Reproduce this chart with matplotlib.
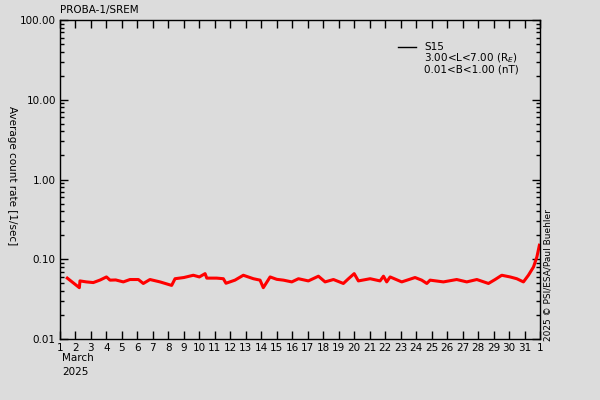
import matplotlib
matplotlib.use('Agg')
import matplotlib.pyplot as plt
from matplotlib.ticker import FixedLocator, LogLocator, NullFormatter

# day of March 2025 (fractional) and S15 average count rate [1/sec]
days = [1.47, 2.25, 2.29, 2.7, 3.15, 3.6, 4.0, 4.23, 4.6, 5.09, 5.52, 6.06, 6.38,
        6.81, 7.46, 8.21, 8.43, 9.0, 9.61, 10.0, 10.37, 10.48, 11.12, 11.55, 11.72,
        12.3, 12.84, 13.49, 13.92, 14.13, 14.57, 15.0, 15.43, 15.97, 16.4, 17.04,
        17.69, 18.12, 18.66, 19.3, 19.63, 20.0, 20.27, 21.03, 21.67, 21.89, 22.1,
        22.32, 23.07, 23.93, 24.36, 24.69, 24.9, 25.76, 26.62, 27.27, 27.92, 28.67,
        29.1, 29.53, 30.07, 30.5, 30.93, 31.25, 31.58, 31.8, 31.96]
rate = [0.058, 0.044, 0.0535, 0.052, 0.051, 0.055, 0.060, 0.0547, 0.055, 0.052,
        0.0557, 0.0557, 0.0497, 0.0557, 0.052, 0.047, 0.057, 0.059, 0.063, 0.060,
        0.066, 0.058, 0.058, 0.057, 0.050, 0.0547, 0.063, 0.057, 0.0547, 0.044,
        0.060, 0.056, 0.0547, 0.052, 0.057, 0.0535, 0.0613, 0.052, 0.0557, 0.0497,
        0.057, 0.066, 0.0535, 0.057, 0.0535, 0.0613, 0.052, 0.060, 0.052, 0.059,
        0.0547, 0.0497, 0.0547, 0.052, 0.0557, 0.052, 0.0557, 0.0497, 0.0557, 0.063,
        0.060, 0.057, 0.052, 0.063, 0.080, 0.107, 0.150]

day_ticks = list(range(1, 33))
day_labels = [str(d) for d in range(1, 32)] + ['1']
y_ticks = [0.01, 0.1, 1, 10, 100]
y_labels = ['0.01', '0.10', '1.00', '10.00', '100.00']

bg = '#dcdcdc'
plt.rcParams['font.family'] = 'DejaVu Sans'
plt.rcParams['font.size'] = 7.5

fig = plt.figure(figsize=(6, 4), dpi=100, facecolor=bg)
ax = fig.add_axes([0.1, 0.1525, 0.8, 0.7975], facecolor=bg)

ax.plot(days, rate, color='red', lw=2.2)

ax.set_yscale('log')
ax.set_ylim(0.01, 100)
ax.set_xlim(1, 32)
ax.xaxis.set_major_locator(FixedLocator(day_ticks))
ax.set_xticklabels(day_labels)
ax.yaxis.set_major_locator(FixedLocator(y_ticks))
ax.set_yticklabels(y_labels)
ax.yaxis.set_minor_locator(LogLocator(base=10, subs=range(2, 10)))
ax.yaxis.set_minor_formatter(NullFormatter())
ax.tick_params(which='both', direction='in', top=True, right=True, color='black',
               width=1, pad=3)
ax.tick_params(which='major', length=6)
ax.tick_params(which='minor', length=3)
for s in ax.spines.values():
    s.set_linewidth(1)

fig.text(0.1, 0.975, 'PROBA-1/SREM', ha='left', va='center')
fig.text(0.103, 0.105, 'March', ha='left', va='center')
fig.text(0.103, 0.07, '2025', ha='left', va='center')
fig.text(0.02, 1 - 176 / 400, 'Average count rate [1/sec]', rotation=-90,
         ha='center', va='center')
fig.text(0.913, 1 - 275 / 400, '2025 \u00a9 PSI/ESA/Paul Buehler', rotation=90,
         ha='center', va='center', fontsize=6.5)

# legend
ax.plot([0.705, 0.742], [0.914, 0.914], transform=ax.transAxes, color='black', lw=1)
fig.text(0.707, 1 - 42 / 400, 'S15\n3.00<L<7.00 (R$_E$)\n0.01<B<1.00 (nT)',
         ha='left', va='top', fontsize=7.5, linespacing=0.95)

fig.savefig('out.png', dpi=100, facecolor=bg)
